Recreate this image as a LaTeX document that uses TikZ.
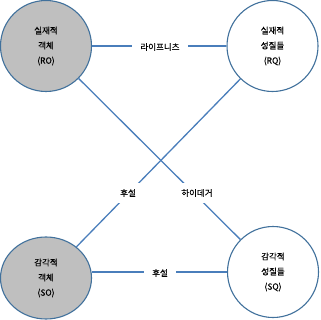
\documentclass[tikz,border=0pt]{standalone}
\usepackage{fontspec}
\setmainfont{Noto Sans CJK KR}[FakeBold=0.3]
\usetikzlibrary{shapes.geometric}
\definecolor{ringblue}{HTML}{41719C}
\definecolor{lineblue}{HTML}{4A7EBB}
\definecolor{fillgray}{HTML}{BFBFBF}
\tikzset{
  ent/.style={draw=ringblue, line width=1.1pt, inner sep=0pt, align=center,
    font=\fontsize{8.5}{15}\selectfont},
  entround/.style={ent, circle, minimum size=91pt},
  link/.style={draw=lineblue, line width=1.3pt},
  lab/.style={fill=white, inner xsep=8pt, inner ysep=6pt, font=\fontsize{8.5}{10}\selectfont}
}
\begin{document}
\begin{tikzpicture}[x=1pt,y=-1pt]
\useasboundingbox (0,0) rectangle (320,320);
\node[entround, fill=fillgray] (RO) at (46,46) {실재적\\객체\\(RO)};
\node[entround, fill=white] (RQ) at (272.5,46) {실재적\\성질들\\(RQ)};
\node[entround, fill=white] (SQ) at (273,272) {감각적\\성질들\\(SQ)};
\node[ent, ellipse, fill=fillgray, minimum width=91pt, minimum height=82pt] (SO) at (46,278) {감각적\\객체\\(SO)};
\draw[link] (RO) -- (RQ);
\draw[link] (SO.east |- SQ.west) -- (SQ.west);
\draw[link] (RO) -- (SQ);
\draw[link] (RQ) -- (SO);
\node[lab] (leib) at (160,47) {라이프니츠};
\node[lab] (husA) at (128,193) {후설};
\node[lab] (heid) at (197,193) {하이데거};
\node[lab] (husB) at (160,273) {후설};
\end{tikzpicture}
\end{document}
